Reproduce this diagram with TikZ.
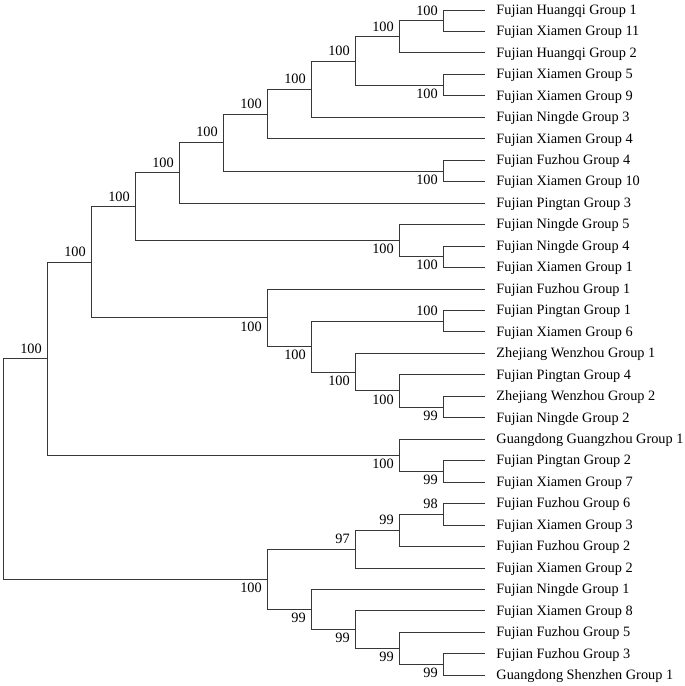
\documentclass[tikz,border=0pt]{standalone}
\usepackage{fontspec}
\setmainfont{Liberation Serif}
\usepackage{tikz}
\definecolor{treegray}{RGB}{55,55,55}
\newcommand{\treefont}{\fontsize{14.3bp}{17bp}\selectfont}
\tikzset{
  branch/.style={draw=treegray, line width=0.9bp},
  taxon/.style={anchor=west, inner xsep=11.5bp, inner ysep=0pt, text height=11.5bp, text depth=3bp, font=\treefont},
  bsup/.style={anchor=base east, xshift=-5bp, yshift=5.7bp, inner sep=0pt, font=\treefont},
  bsdn/.style={anchor=base east, xshift=-5bp, yshift=-13.2bp, inner sep=0pt, font=\treefont}
}
\begin{document}
\begin{tikzpicture}[x=44bp, y=-21.4615bp]
  \useasboundingbox (-0.068,0.534) rectangle (15.5,32.5);

  % taxa, top to bottom
  \foreach \t [count=\k] in {Fujian Huangqi Group 1, Fujian Xiamen Group 11, Fujian Huangqi Group 2,
      Fujian Xiamen Group 5, Fujian Xiamen Group 9, Fujian Ningde Group 3, Fujian Xiamen Group 4,
      Fujian Fuzhou Group 4, Fujian Xiamen Group 10, Fujian Pingtan Group 3, Fujian Ningde Group 5,
      Fujian Ningde Group 4, Fujian Xiamen Group 1, Fujian Fuzhou Group 1, Fujian Pingtan Group 1,
      Fujian Xiamen Group 6, Zhejiang Wenzhou Group 1, Fujian Pingtan Group 4, Zhejiang Wenzhou Group 2,
      Fujian Ningde Group 2, Guangdong Guangzhou Group 1, Fujian Pingtan Group 2, Fujian Xiamen Group 7,
      Fujian Fuzhou Group 6, Fujian Xiamen Group 3, Fujian Fuzhou Group 2, Fujian Xiamen Group 2,
      Fujian Ningde Group 1, Fujian Xiamen Group 8, Fujian Fuzhou Group 5, Fujian Fuzhou Group 3,
      Guangdong Shenzhen Group 1}
    \node[taxon] (l\k) at (10.95,\k) {\t};

  % internal nodes (level, leaf position)
  \coordinate (nAF) at (10,1.5);
  \coordinate (nAD) at (9,2.25);
  \coordinate (nAE) at (10,4.5);
  \coordinate (nAC) at (8,3.375);
  \coordinate (nAB) at (7,4.6875);
  \coordinate (nZ) at (6,5.84375);
  \coordinate (nAA) at (10,8.5);
  \coordinate (nY) at (5,7.171875);
  \coordinate (nV) at (4,8.5859375);
  \coordinate (nX) at (10,12.5);
  \coordinate (nW) at (9,11.75);
  \coordinate (nN) at (3,10.16797);
  \coordinate (nR) at (10,15.5);
  \coordinate (nU) at (10,19.5);
  \coordinate (nT) at (9,18.75);
  \coordinate (nS) at (8,17.875);
  \coordinate (nQ) at (7,16.6875);
  \coordinate (nP) at (6,15.34375);
  \coordinate (nJ) at (2,12.75586);
  \coordinate (nM) at (10,22.5);
  \coordinate (nK) at (9,21.75);
  \coordinate (nA) at (1,17.25293);
  \coordinate (nF) at (10,24.5);
  \coordinate (nE) at (9,25.25);
  \coordinate (nC) at (8,26.125);
  \coordinate (nI) at (10,31.5);
  \coordinate (nH) at (9,30.75);
  \coordinate (nG) at (8,29.875);
  \coordinate (nD) at (7,28.9375);
  \coordinate (nB) at (6,27.53125);
  \coordinate (root) at (0,22.39209);

  % branches
  \draw[branch] (root) |- (nA); \draw[branch] (root) |- (nB);
  \draw[branch] (nA) |- (nJ); \draw[branch] (nA) |- (nK);
  \draw[branch] (nJ) |- (nN); \draw[branch] (nJ) |- (nP);
  \draw[branch] (nN) |- (nV); \draw[branch] (nN) |- (nW);
  \draw[branch] (nV) |- (nY); \draw[branch] (nV) |- (l10.west);
  \draw[branch] (nY) |- (nZ); \draw[branch] (nY) |- (nAA);
  \draw[branch] (nZ) |- (nAB); \draw[branch] (nZ) |- (l7.west);
  \draw[branch] (nAB) |- (nAC); \draw[branch] (nAB) |- (l6.west);
  \draw[branch] (nAC) |- (nAD); \draw[branch] (nAC) |- (nAE);
  \draw[branch] (nAD) |- (nAF); \draw[branch] (nAD) |- (l3.west);
  \draw[branch] (nAF) |- (l1.west); \draw[branch] (nAF) |- (l2.west);
  \draw[branch] (nAE) |- (l4.west); \draw[branch] (nAE) |- (l5.west);
  \draw[branch] (nAA) |- (l8.west); \draw[branch] (nAA) |- (l9.west);
  \draw[branch] (nW) |- (l11.west); \draw[branch] (nW) |- (nX);
  \draw[branch] (nX) |- (l12.west); \draw[branch] (nX) |- (l13.west);
  \draw[branch] (nP) |- (l14.west); \draw[branch] (nP) |- (nQ);
  \draw[branch] (nQ) |- (nR); \draw[branch] (nQ) |- (nS);
  \draw[branch] (nR) |- (l15.west); \draw[branch] (nR) |- (l16.west);
  \draw[branch] (nS) |- (l17.west); \draw[branch] (nS) |- (nT);
  \draw[branch] (nT) |- (l18.west); \draw[branch] (nT) |- (nU);
  \draw[branch] (nU) |- (l19.west); \draw[branch] (nU) |- (l20.west);
  \draw[branch] (nK) |- (l21.west); \draw[branch] (nK) |- (nM);
  \draw[branch] (nM) |- (l22.west); \draw[branch] (nM) |- (l23.west);
  \draw[branch] (nB) |- (nC); \draw[branch] (nB) |- (nD);
  \draw[branch] (nC) |- (nE); \draw[branch] (nC) |- (l27.west);
  \draw[branch] (nE) |- (nF); \draw[branch] (nE) |- (l26.west);
  \draw[branch] (nF) |- (l24.west); \draw[branch] (nF) |- (l25.west);
  \draw[branch] (nD) |- (l28.west); \draw[branch] (nD) |- (nG);
  \draw[branch] (nG) |- (l29.west); \draw[branch] (nG) |- (nH);
  \draw[branch] (nH) |- (l30.west); \draw[branch] (nH) |- (nI);
  \draw[branch] (nI) |- (l31.west); \draw[branch] (nI) |- (l32.west);

  % bootstrap values
  \node[bsup] (sAF) at (nAF) {100};
  \node[bsup] (sAD) at (nAD) {100};
  \node[bsdn] (sAE) at (nAE) {100};
  \node[bsup] (sAC) at (nAC) {100};
  \node[bsup] (sAB) at (nAB) {100};
  \node[bsup] (sZ) at (nZ) {100};
  \node[bsup] (sY) at (nY) {100};
  \node[bsdn] (sAA) at (nAA) {100};
  \node[bsup] (sV) at (nV) {100};
  \node[bsup] (sN) at (nN) {100};
  \node[bsdn] (sW) at (nW) {100};
  \node[bsdn] (sX) at (nX) {100};
  \node[bsup] (sJ) at (nJ) {100};
  \node[bsdn] (sP) at (nP) {100};
  \node[bsdn] (sQ) at (nQ) {100};
  \node[bsup] (sR) at (nR) {100};
  \node[bsdn] (sS) at (nS) {100};
  \node[bsdn] (sT) at (nT) {100};
  \node[bsdn] (sU) at (nU) {99};
  \node[bsup] (sA) at (nA) {100};
  \node[bsdn] (sK) at (nK) {100};
  \node[bsdn] (sM) at (nM) {99};
  \node[bsdn] (sB) at (nB) {100};
  \node[bsup] (sC) at (nC) {97};
  \node[bsup] (sE) at (nE) {99};
  \node[bsup] (sF) at (nF) {98};
  \node[bsdn] (sD) at (nD) {99};
  \node[bsdn] (sG) at (nG) {99};
  \node[bsdn] (sH) at (nH) {99};
  \node[bsdn] (sI) at (nI) {99};
\end{tikzpicture}
\end{document}
